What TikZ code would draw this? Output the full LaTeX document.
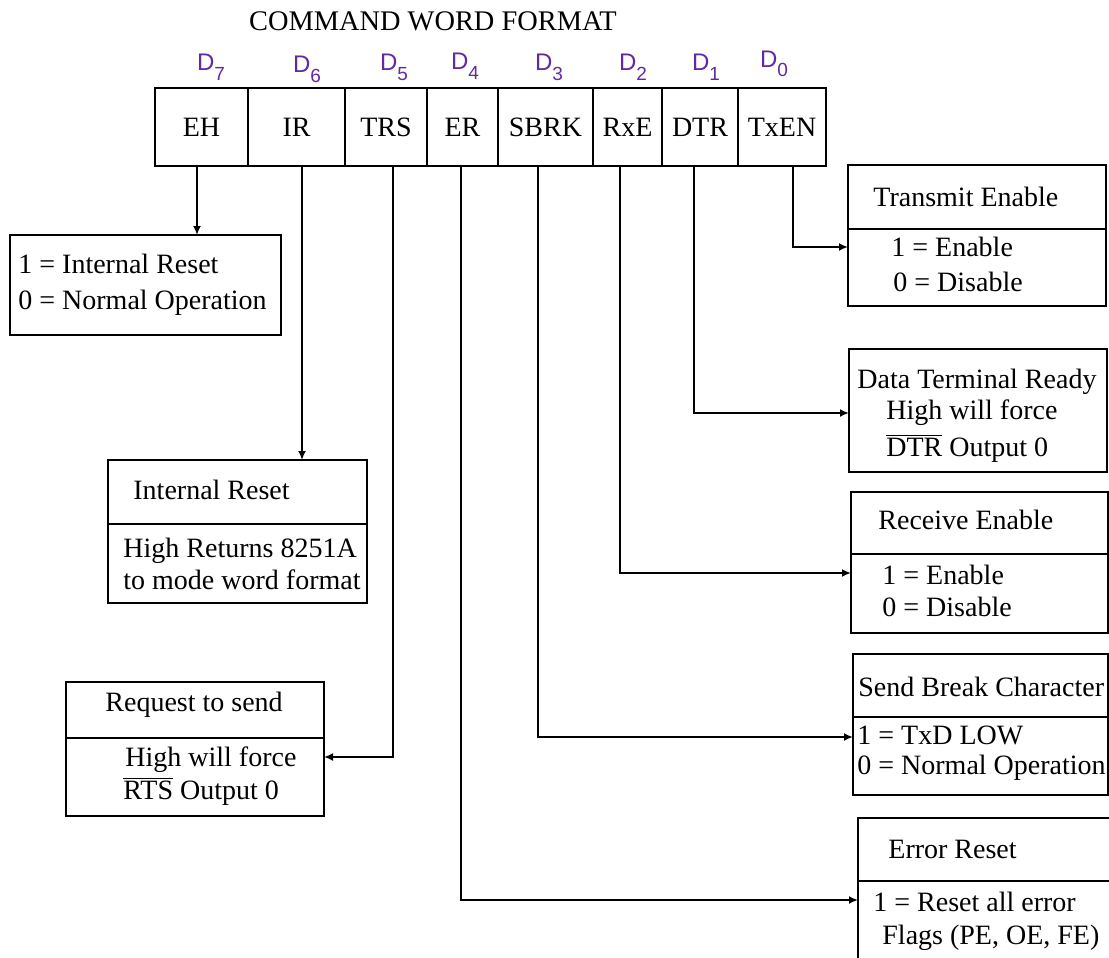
\documentclass[tikz,border=0pt]{standalone}
\usepackage{fontspec}
\setmainfont{Liberation Serif}
\setsansfont{Liberation Sans}
\usepackage{tikz}
\usetikzlibrary{positioning,arrows.meta}
\usepackage{xcolor}
\definecolor{bitpurple}{RGB}{100,40,160}

\begin{document}
\begin{tikzpicture}[
    x=0.5pt, y=-0.5pt,
    every node/.style={font=\fontsize{14}{16.5}\selectfont},
    cell/.style={draw, line width=1pt, minimum height=39pt, inner sep=0pt, outer sep=0pt},
    desc/.style={draw, line width=1pt, inner sep=0pt, outer sep=0pt, anchor=north west},
    txt/.style={anchor=west, align=left, inner sep=0pt},
    bitlbl/.style={font=\fontsize{12}{12}\sffamily, text=bitpurple, inner sep=0pt, anchor=base},
    divline/.style={line width=1pt},
    arrow/.style={-{Latex[length=4.5pt,width=4pt]}, line width=0.9pt}
]
    \useasboundingbox (0,0) rectangle (1109,958);
    \clip (0,0) rectangle (1109,958);

    % Title
    \node (title) at (433,21) {\fontsize{14.2}{16}\selectfont COMMAND WORD FORMAT};

    % Bit numbers
    \node[bitlbl] (d7) at (211,70) {D\raisebox{-5pt}{\fontsize{9.5}{9.5}\selectfont 7}};
    \node[bitlbl] (d6) at (307,72) {D\raisebox{-5pt}{\fontsize{9.5}{9.5}\selectfont 6}};
    \node[bitlbl] (d5) at (394,70) {D\raisebox{-5pt}{\fontsize{9.5}{9.5}\selectfont 5}};
    \node[bitlbl] (d4) at (465,69) {D\raisebox{-5pt}{\fontsize{9.5}{9.5}\selectfont 4}};
    \node[bitlbl] (d3) at (549,70) {D\raisebox{-5pt}{\fontsize{9.5}{9.5}\selectfont 3}};
    \node[bitlbl] (d2) at (633,70) {D\raisebox{-5pt}{\fontsize{9.5}{9.5}\selectfont 2}};
    \node[bitlbl] (d1) at (706,70) {D\raisebox{-5pt}{\fontsize{9.5}{9.5}\selectfont 1}};
    \node[bitlbl] (d0) at (774,67) {D\raisebox{-5pt}{\fontsize{9.5}{9.5}\selectfont 0}};

    % Command word register
    \node[cell, minimum width=46.5pt, anchor=north west] (eh) at (155,88) {EH};
    \node[cell, minimum width=48.5pt, right=0pt of eh] (ir) {IR};
    \node[cell, minimum width=41pt, right=0pt of ir] (trs) {TRS};
    \node[cell, minimum width=35.5pt, right=0pt of trs] (er) {ER};
    \node[cell, minimum width=47.5pt, right=0pt of er] (sbrk) {SBRK};
    \node[cell, minimum width=34.5pt, right=0pt of sbrk] (rxe) {RxE};
    \node[cell, minimum width=38pt, right=0pt of rxe] (dtr) {DTR};
    \node[cell, minimum width=44pt, right=0pt of dtr] (txen) {TxEN};

    % Left boxes
    \node[desc, minimum width=135.5pt, minimum height=50pt] (ehbox) at (10,235) {};
    \node[txt] (ehtext) at (18,285) {1 = Internal Reset\\[1.5pt]0 = Normal Operation};

    \node[desc, minimum width=129.5pt, minimum height=71.5pt] (irbox) at (108,460) {};
    \draw[divline] ([yshift=-32pt]irbox.north west) -- ([yshift=-32pt]irbox.north east);
    \node[txt] (irtitle) at (133,490) {Internal Reset};
    \node[txt] (irtext) at (123,564) {High Returns 8251A\\[-0.5pt]to mode word format};

    \node[desc, minimum width=129pt, minimum height=67pt] (rtsbox) at (66,682) {};
    \draw[divline] ([yshift=-28pt]rtsbox.north west) -- ([yshift=-28pt]rtsbox.north east);
    \node[txt] (rtstitle) at (105,705) {Request to send};
    \node[txt] (rtstext) at (123,776) {\hspace*{1pt}High will force\\$\overline{\mbox{RTS}}$ Output 0};

    % Right boxes
    \node[desc, minimum width=129pt, minimum height=70.5pt] (txbox) at (848,165) {};
    \draw[divline] ([yshift=-32pt]txbox.north west) -- ([yshift=-32pt]txbox.north east);
    \node[txt] (txtitle) at (873,197) {Transmit Enable};
    \node[txt] (txtext) at (891,264) {1 = Enable\\[1pt]\hspace*{1pt}0 = Disable};

    \node[desc, minimum width=129pt, minimum height=61.5pt] (dtrbox) at (849,349) {};
    \node[txt] (dtrtitle) at (857,382) {Data Terminal Ready};
    \node[txt] (dtrtext) at (886,431) {High will force\\[2pt]$\overline{\mbox{DTR}}$ Output 0};

    \node[desc, minimum width=128.5pt, minimum height=70.5pt] (rxbox) at (851,492) {};
    \draw[divline] ([yshift=-31pt]rxbox.north west) -- ([yshift=-31pt]rxbox.north east);
    \node[txt] (rxtitle) at (878,520) {Receive Enable};
    \node[txt] (rxtext) at (882,591) {1 = Enable\\[-0.5pt]0 = Disable};

    \node[desc, minimum width=127.5pt, minimum height=70.5pt] (sbbox) at (853,654) {};
    \draw[divline] ([yshift=-31.5pt]sbbox.north west) -- ([yshift=-31.5pt]sbbox.north east);
    \node[txt] (sbtitle) at (858,687) {Send Break Character};
    \node[txt] (sbtext) at (857,753) {1 = TxD LOW\\[-1.5pt]0 = Normal Operation};

    \node[desc, minimum width=127pt, minimum height=78.5pt] (erbox) at (858,818) {};
    \draw[divline] ([yshift=-31.5pt]erbox.north west) -- ([yshift=-31.5pt]erbox.north east);
    \node[txt] (ertitle) at (888,849) {Error Reset};
    \node[txt] (ertext) at (873,921) {1 = Reset all error\\\hspace*{4.5pt}Flags (PE, OE, FE)};

    % Connector start points
    \coordinate (cEH) at ([xshift=-2.25pt]eh.south);
    \coordinate (cIR) at ([xshift=2.75pt]ir.south);
    \coordinate (cTRS) at ([xshift=3.5pt]trs.south);
    \coordinate (cER) at ([xshift=-0.75pt]er.south);
    \coordinate (cSB) at ([xshift=-3.75pt]sbrk.south);
    \coordinate (cRX) at ([xshift=-3.75pt]rxe.south);
    \coordinate (cDTR) at ([xshift=-3pt]dtr.south);
    \coordinate (cTX) at ([xshift=5.5pt]txen.south);

    % Draw arrows
    \draw[arrow] (cEH) -- (cEH |- ehbox.north);
    \draw[arrow] (cIR) -- (cIR |- irbox.north);
    \draw[arrow] (cTRS) |- ([yshift=-4pt]rtsbox.east);
    \draw[arrow] (cER) |- ([yshift=-1.75pt]erbox.west);
    \draw[arrow] (cSB) |- ([yshift=-6.25pt]sbbox.west);
    \draw[arrow] (cRX) |- ([yshift=-5.25pt]rxbox.west);
    \draw[arrow] (cDTR) |- ([yshift=-1.25pt]dtrbox.west);
    \draw[arrow] (cTX) |- ([yshift=-5.75pt]txbox.west);
\end{tikzpicture}
\end{document}
